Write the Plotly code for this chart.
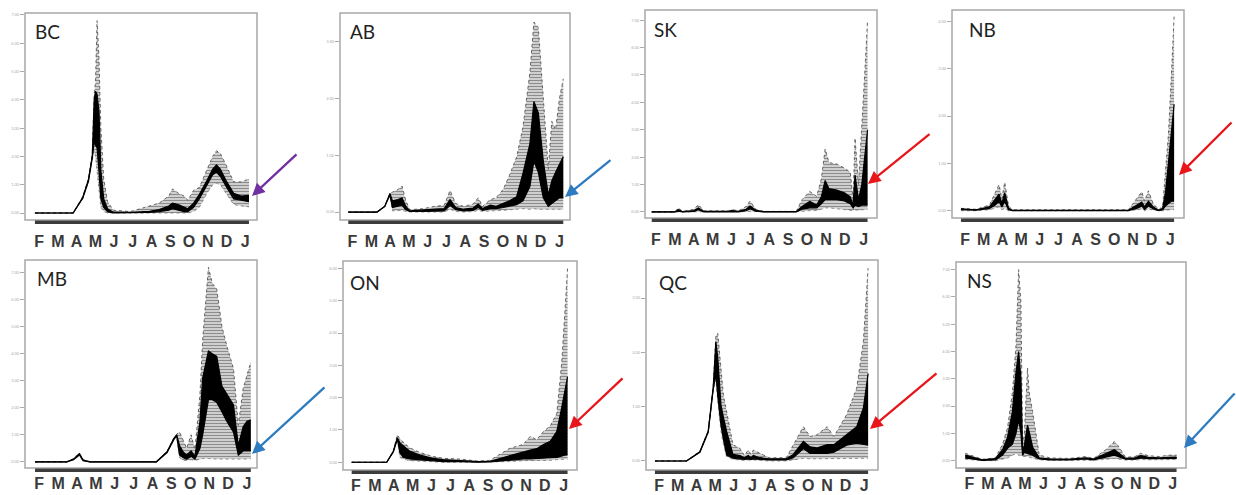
import plotly.graph_objects as go

W, H = 1236, 495
MONTHS = ["F", "M", "A", "M", "J", "J", "A", "S", "O", "N", "D", "J"]

# ---------------- data (x in months from start of Feb; values in y-tick units) -------------
BC_x  = [0, 2.0, 2.5, 2.8, 3.0, 3.1, 3.17, 3.25, 3.35, 3.45, 3.6, 3.8, 4.1, 5.0, 6.0, 6.5, 7.0, 7.2, 7.5, 7.8, 8.0, 8.3, 8.6, 9.0, 9.3, 9.5, 9.7, 10.0, 10.4, 10.8, 11.2]
BC_lo = [0, 0, 0.5, 1.1, 1.9, 2.2, 2.0, 1.5, 0.8, 0.2, 0.05, 0, 0, 0, 0, 0, 0, 0.02, 0, 0, 0, 0.05, 0.2, 0.7, 1.0, 1.05, 1.0, 0.7, 0.3, 0.25, 0.22]
BC_q1 = [0, 0, 0.52, 1.12, 1.95, 2.5, 2.4, 2.3, 1.5, 0.5, 0.2, 0.05, 0, 0, 0.02, 0.05, 0.1, 0.15, 0.1, 0.05, 0.05, 0.2, 0.5, 1.0, 1.35, 1.45, 1.3, 0.95, 0.5, 0.45, 0.4]
BC_q3 = [0, 0, 0.55, 1.18, 2.0, 4.0, 4.3, 4.2, 3.6, 1.5, 0.5, 0.15, 0.03, 0.02, 0.06, 0.12, 0.25, 0.35, 0.3, 0.2, 0.15, 0.35, 0.65, 1.15, 1.55, 1.7, 1.55, 1.15, 0.7, 0.6, 0.62]
BC_hi = [0, 0, 0.58, 1.22, 2.1, 4.2, 4.6, 6.8, 5.5, 3.0, 1.2, 0.4, 0.1, 0.05, 0.25, 0.35, 0.6, 0.85, 0.7, 0.6, 0.45, 0.8, 0.9, 1.5, 2.0, 2.2, 2.1, 1.7, 1.1, 1.1, 1.2]

AB_x  = [0, 1.5, 1.9, 2.17, 2.3, 2.6, 2.8, 3.0, 3.2, 3.9, 4.5, 5.0, 5.3, 5.6, 6.0, 6.5, 6.77, 7.0, 7.4, 7.7, 8.07, 8.4, 8.77, 9.1, 9.46, 9.67, 9.9, 10.16, 10.42, 10.6, 10.8, 11.0, 11.2]
AB_lo = [0, 0, 0.1, 0.3, 0.02, 0.02, 0.03, 0.01, 0, 0, 0, 0, 0.05, 0.01, 0, 0.01, 0.03, 0.01, 0.02, 0.02, 0.03, 0.04, 0.05, 0.06, 0.05, 0.06, 0.05, 0.05, 0.04, 0.05, 0.05, 0.05, 0.05]
AB_q1 = [0, 0, 0.1, 0.3, 0.08, 0.1, 0.12, 0.04, 0.01, 0.01, 0.02, 0.02, 0.12, 0.04, 0.02, 0.03, 0.08, 0.03, 0.06, 0.06, 0.08, 0.1, 0.13, 0.2, 0.45, 0.9, 0.7, 0.25, 0.1, 0.15, 0.2, 0.25, 0.25]
AB_q3 = [0, 0, 0.1, 0.33, 0.2, 0.22, 0.25, 0.1, 0.02, 0.03, 0.05, 0.06, 0.22, 0.08, 0.05, 0.07, 0.14, 0.06, 0.12, 0.1, 0.15, 0.2, 0.27, 0.68, 1.2, 1.95, 1.75, 0.9, 0.3, 0.55, 0.7, 0.85, 0.98]
AB_hi = [0, 0, 0.1, 0.33, 0.35, 0.4, 0.46, 0.2, 0.04, 0.06, 0.1, 0.12, 0.38, 0.15, 0.1, 0.14, 0.25, 0.1, 0.22, 0.25, 0.4, 0.65, 0.97, 1.5, 2.45, 3.35, 3.25, 2.0, 0.75, 1.6, 1.45, 2.0, 2.35]

SK_x  = [0, 1.2, 1.38, 1.6, 2.2, 2.42, 2.7, 4.0, 4.15, 4.5, 4.9, 5.1, 5.4, 5.8, 7.5, 7.8, 8.2, 8.56, 8.8, 9.0, 9.2, 9.6, 10.0, 10.3, 10.45, 10.55, 10.73, 10.9, 11.05, 11.2]
SK_lo = [0, 0, 0, 0, 0, 0, 0, 0, 0, 0, 0, 0.02, 0, 0, 0, 0.02, 0.05, 0.05, 0.1, 0.15, 0.15, 0.12, 0.1, 0.08, 0.05, 0.08, 0.06, 0.08, 0.1, 0.1]
SK_q1 = [0, 0, 0.03, 0, 0.02, 0.08, 0, 0, 0.02, 0, 0.05, 0.12, 0.03, 0, 0, 0.1, 0.15, 0.15, 0.3, 0.45, 0.45, 0.45, 0.4, 0.3, 0.15, 0.25, 0.2, 0.25, 0.25, 0.25]
SK_q3 = [0, 0, 0.08, 0.01, 0.05, 0.15, 0.02, 0.02, 0.05, 0.02, 0.1, 0.22, 0.06, 0.01, 0.01, 0.2, 0.38, 0.25, 0.55, 1.15, 0.85, 0.8, 0.7, 0.55, 0.25, 1.35, 0.45, 1.0, 2.0, 3.0]
SK_hi = [0, 0, 0.15, 0.02, 0.1, 0.27, 0.04, 0.04, 0.09, 0.04, 0.2, 0.4, 0.1, 0.02, 0.02, 0.45, 0.75, 0.57, 1.2, 2.3, 1.8, 1.75, 1.6, 1.45, 0.45, 2.7, 1.0, 3.0, 5.0, 7.0]

NB_x  = [0, 0.8, 1.5, 1.8, 2.0, 2.15, 2.3, 2.5, 2.7, 8.8, 9.3, 9.5, 9.65, 9.85, 10.1, 10.4, 10.6, 10.75, 10.9, 11.05, 11.2]
NB_lo = [0, 0, 0.02, 0.05, 0.08, 0.02, 0.05, 0, 0, 0, 0.02, 0.04, 0, 0.04, 0.01, 0, 0, 0.01, 0.02, 0.02, 0.03]
NB_q1 = [0.02, 0.01, 0.05, 0.12, 0.2, 0.08, 0.2, 0.02, 0, 0, 0.06, 0.1, 0.03, 0.1, 0.04, 0, 0.02, 0.1, 0.15, 0.2, 0.2]
NB_q3 = [0.04, 0.02, 0.08, 0.25, 0.35, 0.15, 0.38, 0.05, 0.01, 0.01, 0.12, 0.18, 0.08, 0.2, 0.08, 0.01, 0.05, 0.4, 1.0, 1.6, 2.25]
NB_hi = [0.05, 0.03, 0.12, 0.4, 0.55, 0.25, 0.6, 0.1, 0.02, 0.02, 0.3, 0.4, 0.2, 0.42, 0.15, 0.02, 0.1, 0.9, 1.6, 2.8, 4.1]

MB_x  = [0, 1.65, 2.0, 2.3, 2.5, 2.85, 6.3, 6.85, 7.2, 7.35, 7.5, 7.7, 7.87, 8.1, 8.3, 8.56, 8.7, 9.0, 9.2, 9.43, 9.7, 9.95, 10.3, 10.55, 10.8, 11.0, 11.2]
MB_lo = [0, 0, 0.08, 0.22, 0.02, 0, 0, 0.33, 0.8, 0.95, 0.15, 0.05, 0.05, 0.08, 0.05, 0.1, 0.12, 0.12, 0.1, 0.1, 0.1, 0.1, 0.1, 0.08, 0.1, 0.1, 0.12]
MB_q1 = [0, 0, 0.08, 0.26, 0.04, 0, 0, 0.34, 0.82, 0.97, 0.25, 0.15, 0.1, 0.2, 0.1, 0.5, 1.0, 2.3, 2.3, 2.2, 1.85, 1.5, 1.1, 0.25, 0.4, 0.4, 0.4]
MB_q3 = [0, 0, 0.1, 0.3, 0.06, 0, 0, 0.37, 0.86, 1.0, 0.6, 0.35, 0.25, 0.4, 0.2, 1.5, 3.1, 4.1, 4.0, 3.9, 2.8, 2.5, 2.1, 0.6, 1.3, 1.5, 1.55]
MB_hi = [0, 0, 0.12, 0.33, 0.08, 0, 0, 0.38, 0.88, 1.02, 1.1, 0.8, 0.5, 1.0, 0.45, 2.5, 4.5, 7.2, 6.6, 6.4, 5.0, 4.3, 3.45, 1.35, 2.7, 3.2, 3.7]

ON_x  = [0, 1.82, 2.16, 2.37, 2.5, 2.68, 3.0, 3.55, 4.2, 4.76, 5.6, 6.5, 7.18, 7.7, 8.2, 8.9, 9.26, 9.6, 9.95, 10.3, 10.64, 10.9, 11.05, 11.2]
ON_lo = [0, 0, 0.32, 0.7, 0.15, 0.1, 0.05, 0.03, 0.01, 0, 0, 0, 0, 0.01, 0.02, 0.05, 0.05, 0.05, 0.06, 0.06, 0.08, 0.1, 0.1, 0.1]
ON_q1 = [0, 0, 0.32, 0.72, 0.3, 0.15, 0.1, 0.07, 0.03, 0.02, 0.02, 0, 0.01, 0.04, 0.07, 0.1, 0.1, 0.12, 0.12, 0.14, 0.15, 0.2, 0.22, 0.23]
ON_q3 = [0, 0, 0.34, 0.76, 0.6, 0.5, 0.35, 0.22, 0.12, 0.08, 0.06, 0.02, 0.03, 0.12, 0.22, 0.32, 0.38, 0.42, 0.55, 0.65, 0.95, 1.7, 2.2, 2.65]
ON_hi = [0, 0, 0.35, 0.85, 0.72, 0.62, 0.45, 0.3, 0.18, 0.12, 0.1, 0.04, 0.06, 0.25, 0.43, 0.55, 0.8, 0.7, 0.95, 1.12, 1.5, 3.1, 4.5, 6.0]

QC_x  = [0, 1.66, 2.36, 2.8, 3.06, 3.2, 3.3, 3.47, 3.6, 3.77, 4.1, 4.47, 4.7, 4.9, 5.05, 5.17, 5.5, 6.0, 6.9, 7.27, 7.8, 8.15, 8.5, 9.05, 9.4, 10.07, 10.6, 10.95, 11.2]
QC_lo = [0, 0, 0.16, 0.52, 1.3, 1.5, 1.1, 0.55, 0.3, 0.08, 0.03, 0.02, 0.01, 0.02, 0.01, 0.02, 0.01, 0, 0, 0.02, 0.05, 0.04, 0.04, 0.04, 0.04, 0.05, 0.05, 0.05, 0.05]
QC_q1 = [0, 0, 0.16, 0.53, 1.32, 1.6, 1.2, 0.66, 0.4, 0.11, 0.05, 0.04, 0.03, 0.04, 0.03, 0.04, 0.03, 0.02, 0.02, 0.06, 0.23, 0.14, 0.14, 0.14, 0.16, 0.29, 0.33, 0.3, 0.29]
QC_q3 = [0, 0, 0.17, 0.55, 1.35, 2.2, 1.9, 1.03, 0.8, 0.54, 0.12, 0.1, 0.06, 0.1, 0.06, 0.1, 0.06, 0.04, 0.04, 0.12, 0.36, 0.26, 0.24, 0.3, 0.3, 0.48, 0.63, 0.97, 1.61]
QC_hi = [0, 0, 0.18, 0.56, 1.37, 2.3, 2.35, 1.7, 1.2, 0.9, 0.3, 0.23, 0.1, 0.2, 0.12, 0.2, 0.14, 0.06, 0.06, 0.3, 0.63, 0.45, 0.48, 0.63, 0.45, 0.85, 1.34, 2.2, 3.55]

NS_x  = [0, 0.4, 0.9, 1.6, 1.98, 2.24, 2.5, 2.69, 2.83, 2.95, 3.04, 3.13, 3.3, 3.39, 3.57, 3.92, 4.5, 5.5, 6.4, 6.8, 7.45, 7.9, 8.1, 8.5, 9.0, 9.3, 9.7, 10.3, 10.8, 11.2]
NS_lo = [0.05, 0.03, 0, 0, 0.05, 0.1, 0.2, 0.25, 0.2, 0.2, 0.15, 0.15, 0.15, 0.12, 0.08, 0.03, 0.01, 0.01, 0.02, 0.01, 0.05, 0.08, 0.06, 0.02, 0.02, 0.04, 0.03, 0.03, 0.03, 0.04]
NS_q1 = [0.1, 0.06, 0.01, 0.03, 0.2, 0.45, 0.6, 1.0, 1.5, 1.0, 0.2, 0.3, 0.25, 0.25, 0.2, 0.06, 0.03, 0.03, 0.06, 0.03, 0.12, 0.2, 0.15, 0.05, 0.05, 0.1, 0.07, 0.07, 0.07, 0.08]
NS_q3 = [0.2, 0.12, 0.03, 0.07, 0.4, 0.85, 1.8, 3.25, 4.0, 3.0, 0.35, 0.55, 1.3, 1.05, 0.5, 0.1, 0.06, 0.05, 0.1, 0.06, 0.25, 0.4, 0.3, 0.08, 0.1, 0.18, 0.12, 0.1, 0.12, 0.13]
NS_hi = [0.27, 0.18, 0.05, 0.1, 0.6, 1.2, 2.5, 4.2, 7.0, 5.8, 0.6, 0.95, 3.4, 2.5, 1.8, 0.2, 0.1, 0.08, 0.15, 0.08, 0.4, 0.7, 0.55, 0.12, 0.15, 0.27, 0.18, 0.15, 0.2, 0.2]

# ---------------- layout (pixel geometry) -------------
# month-letter positions along the axis (in month units from the first data point)
MONTH_POS = [0.22, 1.2, 2.18, 3.16, 4.14, 5.12, 6.1, 7.08, 8.06, 9.04, 10.02, 11.0]

PANELS = [
    ("BC", (BC_x, BC_lo, BC_q1, BC_q3, BC_hi), (25, 13, 257, 220), (-0.52, 11.62), (-0.247, 7.07), 8, (33, 32)),
    ("AB", (AB_x, AB_lo, AB_q1, AB_q3, AB_hi), (340, 13, 570, 220), (-0.43, 11.55), (-0.14, 3.51), 4, (348, 32)),
    ("SK", (SK_x, SK_lo, SK_q1, SK_q3, SK_hi), (645, 10, 877, 218), (-0.35, 11.69), (-0.22, 7.37), 8, (652, 29)),
    ("NB", (NB_x, NB_lo, NB_q1, NB_q3, NB_hi), (952, 10, 1184, 218), (-0.47, 11.72), (-0.154, 4.24), 5, (967, 30)),
    ("MB", (MB_x, MB_lo, MB_q1, MB_q3, MB_hi), (25, 260, 257, 468), (-0.52, 11.52), (-0.23, 7.47), 8, (35, 278)),
    ("ON", (ON_x, ON_lo, ON_q1, ON_q3, ON_hi), (343, 261, 577, 470), (-0.45, 11.69), (-0.24, 6.23), 7, (348, 282)),
    ("QC", (QC_x, QC_lo, QC_q1, QC_q3, QC_hi), (646, 260, 878, 470), (-0.47, 11.72), (-0.166, 3.70), 4, (657, 282)),
    ("NS", (NS_x, NS_lo, NS_q1, NS_q3, NS_hi), (956, 262, 1186, 468), (-0.49, 11.70), (-0.27, 7.28), 8, (965, 280)),
]

# arrows: head (px), tail (px), colour
ARROWS = [
    ((252, 196), (298, 153), "#7030A0"),
    ((565, 197), (612, 159), "#2E7BC0"),
    ((868, 184), (931, 133), "#E8161B"),
    ((1179, 175), (1233, 121), "#E8161B"),
    ((252, 454), (326, 386), "#2E7BC0"),
    ((569, 429), (624, 377), "#E8161B"),
    ((870, 429), (938, 372), "#E8161B"),
    ((1184, 448), (1242, 392), "#2E7BC0"),
]

fig = go.Figure()
layout = dict(width=W, height=H, margin=dict(l=0, r=0, t=0, b=0, autoexpand=False),
              paper_bgcolor="white", plot_bgcolor="white", showlegend=False,
              shapes=[], annotations=[])

for i, (name, (xs, lo, q1, q3, hi), box, xr, yr, nt, tpos) in enumerate(PANELS, start=1):
    sfx = "" if i == 1 else str(i)
    xa, ya = "x" + sfx, "y" + sfx
    fig.add_trace(go.Scatter(x=xs, y=lo, xaxis=xa, yaxis=ya, mode="lines",
                             line=dict(color="#777", width=0.8, dash="dot"), hoverinfo="skip"))
    fig.add_trace(go.Scatter(x=xs, y=hi, xaxis=xa, yaxis=ya, mode="lines",
                             line=dict(color="#555", width=0.9, dash="dot"), fill="tonexty",
                             fillcolor="#e6e6e6",
                             fillpattern=dict(shape="-", fgcolor="#2a2a2a", bgcolor="#eeeeee",
                                              size=3, solidity=0.55),
                             hoverinfo="skip"))
    fig.add_trace(go.Scatter(x=xs, y=q1, xaxis=xa, yaxis=ya, mode="lines",
                             line=dict(color="black", width=1.2), hoverinfo="skip"))
    fig.add_trace(go.Scatter(x=xs, y=q3, xaxis=xa, yaxis=ya, mode="lines",
                             line=dict(color="black", width=1.2), fill="tonexty",
                             fillcolor="black", hoverinfo="skip"))

    l, t, r, b = box
    layout["xaxis" + sfx] = dict(
        domain=[l / W, r / W], range=list(xr), anchor=ya,
        tickvals=MONTH_POS, ticktext=MONTHS,
        ticks="outside", ticklen=7 if i <= 4 else 1, tickcolor="rgba(0,0,0,0)",
        tickfont=dict(family="Liberation Sans", size=16, color="#3a3a3a", weight="bold"),
        showgrid=False, zeroline=False, showline=False, fixedrange=True)
    layout["yaxis" + sfx] = dict(
        domain=[1 - b / H, 1 - t / H], range=list(yr), anchor=xa,
        tickvals=list(range(nt)), ticks="outside", ticklen=4, tickcolor="#aaa",
        tickformat=".2f", tickfont=dict(family="Lato", size=4, color="#aaa"),
        showgrid=False, zeroline=False, showline=False, fixedrange=True)
    layout["shapes"].append(dict(type="rect", xref=xa + " domain", yref=ya + " domain",
                                 x0=0, x1=1, y0=0, y1=1,
                                 line=dict(color="#a8a8a8", width=1.5)))
    layout["shapes"].append(dict(type="line", xref=xa, yref=ya + " domain",
                                 x0=xs[0], x1=xs[-1], y0=-0.011, y1=-0.011,
                                 line=dict(color="#3c3c3c", width=3.5)))
    layout["annotations"].append(dict(text=name, xref="paper", yref="paper",
                                      x=tpos[0] / W, y=1 - tpos[1] / H,
                                      xanchor="left", yanchor="middle", showarrow=False,
                                      font=dict(family="Lato", size=19, color="#222")))

for (hx, hy), (tx, ty), col in ARROWS:
    layout["annotations"].append(dict(text="", xref="paper", yref="paper",
                                      x=hx / W, y=1 - hy / H, ax=tx - hx, ay=ty - hy,
                                      showarrow=True, arrowhead=2, arrowsize=1.1,
                                      arrowwidth=2.3, arrowcolor=col, standoff=0))

fig.update_layout(**layout)
fig.write_html("out.html", config={"displayModeBar": False},
               post_script="document.body.style.margin='0';document.body.style.overflow='hidden';")
